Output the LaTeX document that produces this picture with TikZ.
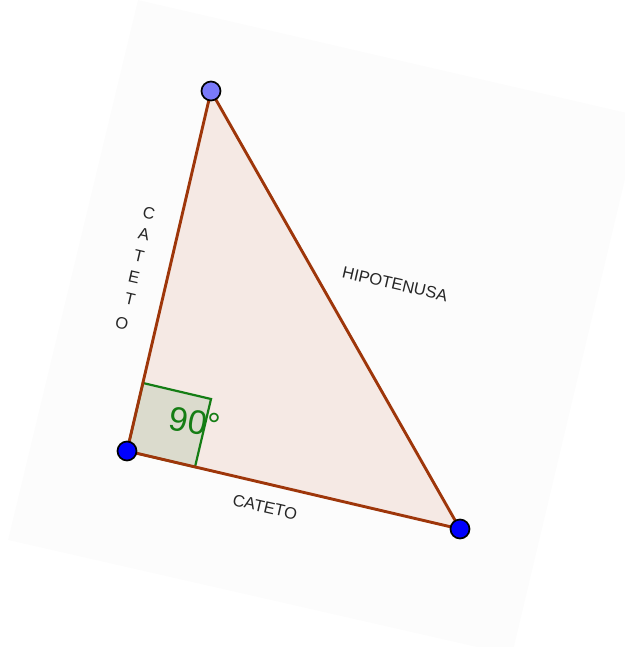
\documentclass[tikz,border=0pt]{standalone}
\usepackage{fontspec}
\setmainfont{Liberation Sans}
\definecolor{bgc}{RGB}{252,252,252}
\definecolor{triedge}{RGB}{158,54,10}
\definecolor{trifill}{RGB}{245,233,228}
\definecolor{sqfill}{RGB}{219,219,205}
\definecolor{sqedge}{RGB}{20,125,20}
\definecolor{ptblue}{RGB}{0,0,255}
\definecolor{ptlight}{RGB}{122,122,250}
\tikzset{
  edgeline/.style={draw=triedge, line width=2.9pt, line join=round},
  sqbox/.style={fill=sqfill, draw=sqedge, line width=2.2pt},
  ptnode/.style={circle, draw=black, line width=1.7pt, inner sep=0pt, minimum size=19pt},
  lbl/.style={font=\fontsize{16.5}{16.5}\selectfont, text=black!85, inner sep=0pt, rotate=-13},
  angl/.style={font=\fontsize{34}{34}\selectfont, text=sqedge, inner sep=0pt, rotate=-10}
}
\begin{document}
\begin{tikzpicture}[x=1pt,y=-1pt]
\useasboundingbox (0,0) rectangle (624,647);
\fill[bgc] (138,0) -- (640,116) -- (512,655) -- (8,540) -- cycle;
\coordinate (T) at (211,91);
\coordinate (L) at (127,451);
\coordinate (R) at (460,529);
\coordinate (S1) at (143,383);
\coordinate (S2) at (195,467);
\coordinate (S3) at (211,399);
\fill[trifill] (T) -- (L) -- (R) -- cycle;
\filldraw[sqbox] (L) -- (S1) -- (S3) -- (S2) -- cycle;
\draw[edgeline] (T) -- (L) -- (R) -- cycle;
\node[angl] (ang) at (195,422) {90°};
\node[lbl] (hip) at (395,284) {HIPOTENUSA};
\node[lbl] (cb) at (265,507) {CATETO};
\node[lbl] (c1) at (149,213) {C};
\node[lbl] (c2) at (144,234) {A};
\node[lbl] (c3) at (139,256) {T};
\node[lbl] (c4) at (134,277) {E};
\node[lbl] (c5) at (130,299) {T};
\node[lbl] (c6) at (122,323) {O};
\node[ptnode, fill=ptlight] (nT) at (T) {};
\node[ptnode, fill=ptblue] (nL) at (L) {};
\node[ptnode, fill=ptblue] (nR) at (R) {};
\end{tikzpicture}
\end{document}
